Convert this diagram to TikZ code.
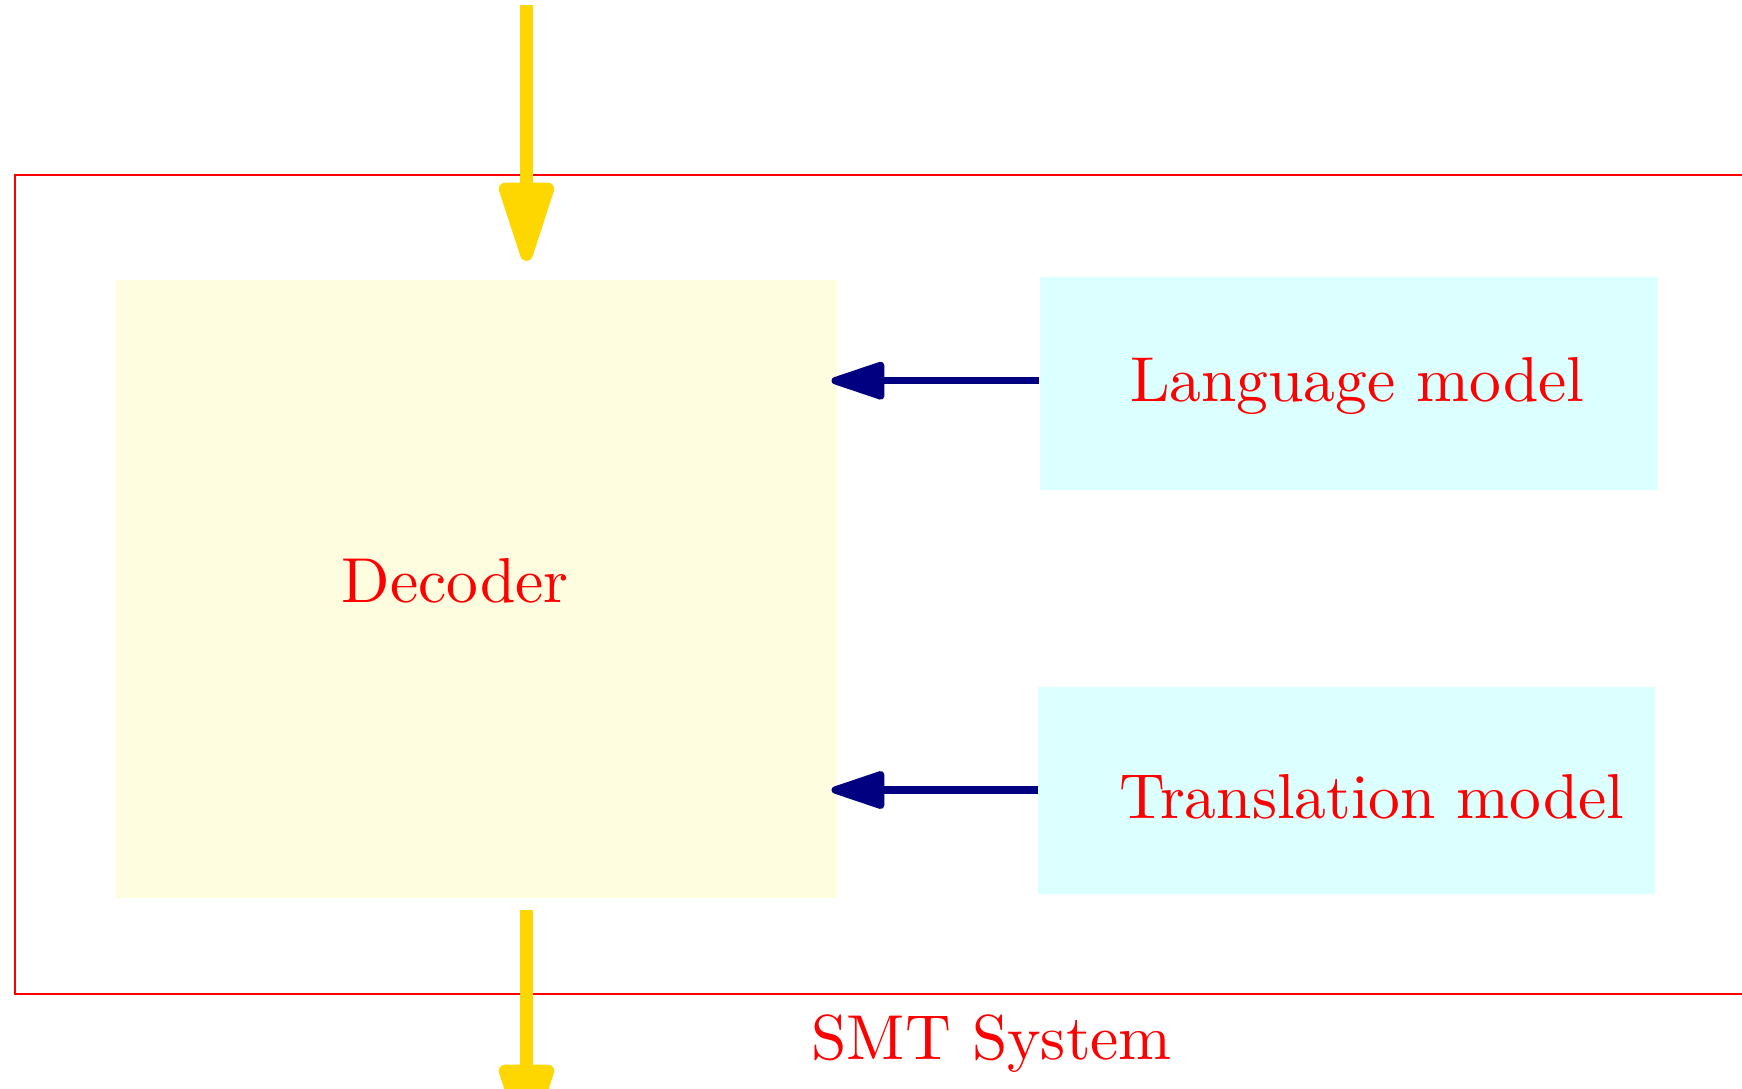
\documentclass[tikz,border=0pt]{standalone}
\usetikzlibrary{arrows.meta}
\definecolor{smtred}{RGB}{255,0,0}
\definecolor{arrowgold}{RGB}{255,215,0}
\definecolor{arrownavy}{RGB}{0,0,128}
\definecolor{decfill}{RGB}{255,253,224}
\definecolor{modfill}{RGB}{220,255,255}
\tikzset{
  lbl/.style={text=smtred, font=\normalsize, scale=2.54, inner sep=0pt, anchor=base},
  boxfill/.style={draw=none, inner sep=0pt, anchor=north west},
  goldarrow/.style={draw=arrowgold, line width=5pt,
    -{Triangle[length=37.5pt, width=22.6pt, round]}},
  navyarrow/.style={draw=arrownavy, line width=2.9pt,
    -{Triangle[length=24.5pt, width=15.5pt, round]}},
}
\begin{document}
\begin{tikzpicture}[x=0.4pt, y=-0.4pt]
\useasboundingbox (0,0) rectangle (1742,1088);
\clip (0,0) rectangle (1742,1088);
% outer system frame
\draw[smtred, line width=0.8pt] (15,175) rectangle (1800,994);
% boxes
\node[boxfill, fill=decfill, minimum width=721*0.4pt, minimum height=618*0.4pt] (dec) at (115.5,279) {};
\node[boxfill, fill=modfill, minimum width=618*0.4pt, minimum height=213*0.4pt] (lm) at (1039,276.7) {};
\node[boxfill, fill=modfill, minimum width=617*0.4pt, minimum height=207*0.4pt] (tm) at (1037.7,686) {};
% labels
\node[lbl] (declbl) at (455,602.7) {Decoder};
\node[lbl] (lmlbl) at (1357.3,401) {Language model};
\node[lbl] (tmlbl) at (1372,818) {Translation model};
\node[lbl] (smtlbl) at (991.7,1059) {SMT System};
% input / output
\coordinate (in) at (526.5,5);
\coordinate (intip) at (526.5,261);
\coordinate (out) at (526.5,910);
\coordinate (outtip) at (526.5,1143);
\draw[goldarrow] (in) -- (intip);
\draw[goldarrow] (out) -- (outtip);
% model arrows
\draw[navyarrow] ([yshift=1.2pt]lm.west) -- ([yshift=1.2pt, xshift=-2.4pt]lm.west -| dec.east);
\draw[navyarrow] (tm.west) -- ([xshift=-2.4pt]tm.west -| dec.east);
\end{tikzpicture}
\end{document}
